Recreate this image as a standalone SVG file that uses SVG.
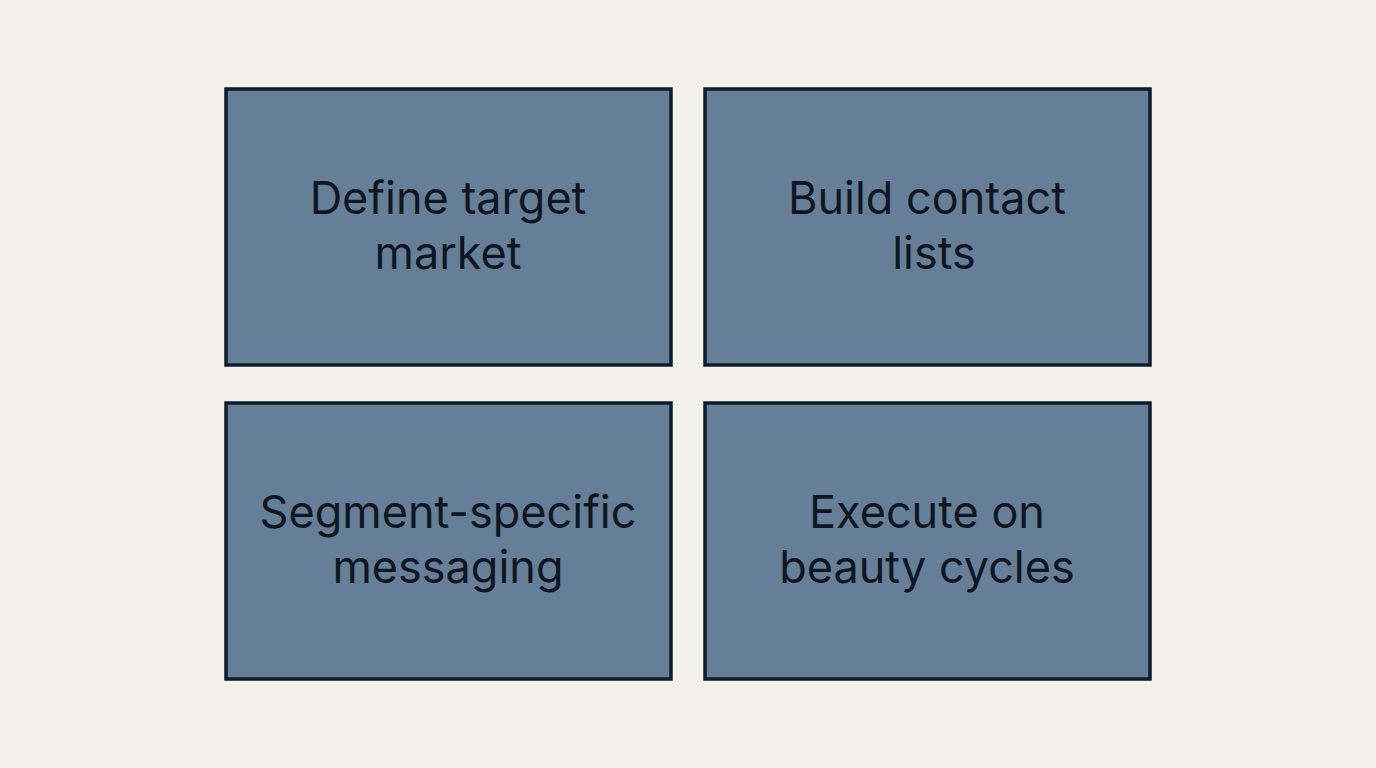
<svg xmlns="http://www.w3.org/2000/svg" width="1376" height="768" viewBox="0 0 1376 768">
<style>
.box{fill:#647f97;stroke:#0f1d2b;stroke-width:3.5}
.t{font-family:Inter,"Noto Sans",sans-serif;font-size:45px;fill:#0f1620;text-anchor:middle}
</style>
<rect width="1376" height="768" fill="#f3f1ec"/>
<g id="n1"><rect class="box" x="226" y="89" width="445" height="276"/><text class="t" x="448" y="214">Define target</text><text class="t" x="448" y="269">market</text></g>
<g id="n2"><rect class="box" x="705" y="89" width="445" height="276"/><text class="t" x="927" y="214">Build contact</text><text class="t" x="934" y="269">lists</text></g>
<g id="n3"><rect class="box" x="226" y="403" width="445" height="276"/><text class="t" x="448" y="528">Segment-specific</text><text class="t" x="448" y="583">messaging</text></g>
<g id="n4"><rect class="box" x="705" y="403" width="445" height="276"/><text class="t" x="927" y="528">Execute on</text><text class="t" x="927" y="583">beauty cycles</text></g>
<g id="connectors"/>
</svg>
